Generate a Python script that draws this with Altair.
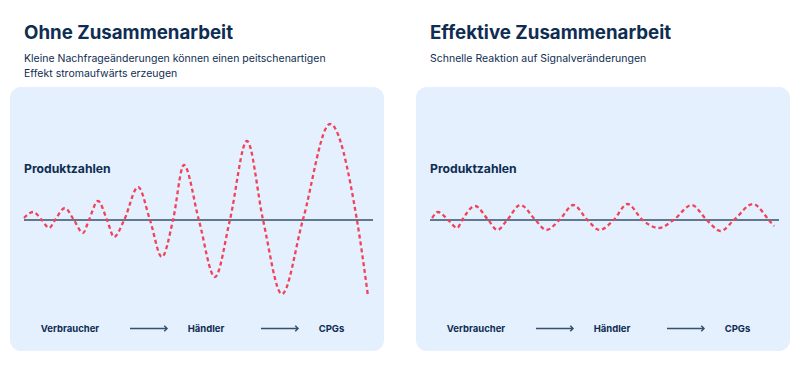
import altair as alt
import pandas as pd

# ---------------- data ----------------
titles = ["Ohne Zusammenarbeit", "Effektive Zusammenarbeit"]
subtitles = [
    ["Kleine Nachfrageänderungen können einen peitschenartigen", "Effekt stromaufwärts erzeugen"],
    ["Schnelle Reaktion auf Signalveränderungen"],
]
y_label = "Produktzahlen"
stages = ["Verbraucher", "Händler", "CPGs"]

# wave 1 (bullwhip): position along axis (0-100), amplitude
left_t = [0, 2.6, 5.1, 7.2, 8.9, 11.7, 14.3, 16.9, 18.6, 21.2, 23.8, 25.8, 28.7,
          32.7, 36.1, 39.5, 42.7, 45.8, 50.1, 54.7, 59.0, 63.9, 68.5, 73.9, 79.9,
          87.7, 95.4, 98.6]
left_v = [2, 8, 0, -8, 0, 12, 0, -13, 0, 19, 0, -17, 0,
          33, 0, -37, 0, 55, 0, -57, 0, 79, 0, -74, 0,
          96, 0, -77]

# wave 2 (effective collaboration)
right_t = [0.6, 2.3, 5.2, 7.8, 9.2, 12.9, 16.7, 19.3, 22.1, 25.9, 30.2, 33.3, 37.1,
           41.1, 45.1, 48.6, 52.6, 56.6, 60.9, 65.5, 69.8, 75.0, 79.3, 83.3, 87.1,
           92.5, 97.1, 98.6]
right_v = [2, 8, 0, -8, 0, 14, 0, -10, 0, 15, 0, -10, 0,
           15, 0, -10, 0, 16, 0, -8, 0, 15, 0, -11, 0,
           16, 0, -6]

# ---------------- style ----------------
NAVY = "#0f2d52"
RED = "#f0435a"
BG = "#e4f0fd"
FONT = "Inter"
H = 350

xscale = alt.Scale(domain=[0, 100], range=[16, 365])
yscale = alt.Scale(domain=[-100, 100], range=[312, 112])

one = pd.DataFrame({"k": [0]})


def text_layer(txt, x, y, size, weight, align="left"):
    return alt.Chart(one).mark_text(
        text=txt, font=FONT, fontSize=size, fontWeight=weight, color=NAVY,
        align=align, baseline="alphabetic"
    ).encode(x=alt.value(x), y=alt.value(y))


def arrow_layers(x1, x2, y):
    line = alt.Chart(one).mark_rule(color="#34506e", strokeWidth=1.5).encode(
        x=alt.value(x1), x2=alt.value(x2), y=alt.value(y))
    head = alt.Chart(one).mark_point(
        shape="M-1,-1L0,0L-1,1", filled=False, size=30, color="#34506e",
        strokeWidth=1.5, opacity=1
    ).encode(x=alt.value(x2), y=alt.value(y))
    return [line, head]


def panel(title, subs, t, v, width):
    df = pd.DataFrame({"t": t, "v": v})
    bg = alt.Chart(one).mark_rect(color=BG, cornerRadius=11).encode(
        x=alt.value(2), x2=alt.value(376), y=alt.value(79), y2=alt.value(343))
    axis = alt.Chart(one).mark_rule(color="#34506e", strokeWidth=1.5).encode(
        x=alt.value(16), x2=alt.value(365),
        y=alt.Y(datum=0, scale=yscale, axis=None))
    wave = alt.Chart(df).mark_line(
        interpolate="monotone", color=RED, strokeWidth=2.3, strokeDash=[4, 3]
    ).encode(
        x=alt.X("t:Q", scale=xscale, axis=None),
        y=alt.Y("v:Q", scale=yscale, axis=None),
    )
    layers = [bg, axis, wave]
    layers.append(text_layer(title, 16, 31, 18.7, "bold"))
    for i, s in enumerate(subs):
        layers.append(text_layer(s, 16, 54 + 15 * i, 10.5, "normal"))
    layers.append(text_layer(y_label, 16, 165, 12.2, "bold"))
    for s, cx in zip(stages, [62, 198, 323.5]):
        layers.append(text_layer(s, cx, 324, 9.5, "bold", align="center"))
    layers += arrow_layers(122, 159, 320.5)
    layers += arrow_layers(253, 290, 320.5)
    return alt.layer(*layers).properties(width=width, height=H)


chart = alt.hconcat(
    panel(titles[0], subtitles[0], left_t, left_v, 384),
    panel(titles[1], subtitles[1], right_t, right_v, 378),
    spacing=22,
).properties(padding=0, background="white").configure_view(stroke=None)

chart.save("out.html", embed_options={"renderer": "svg", "actions": False})
